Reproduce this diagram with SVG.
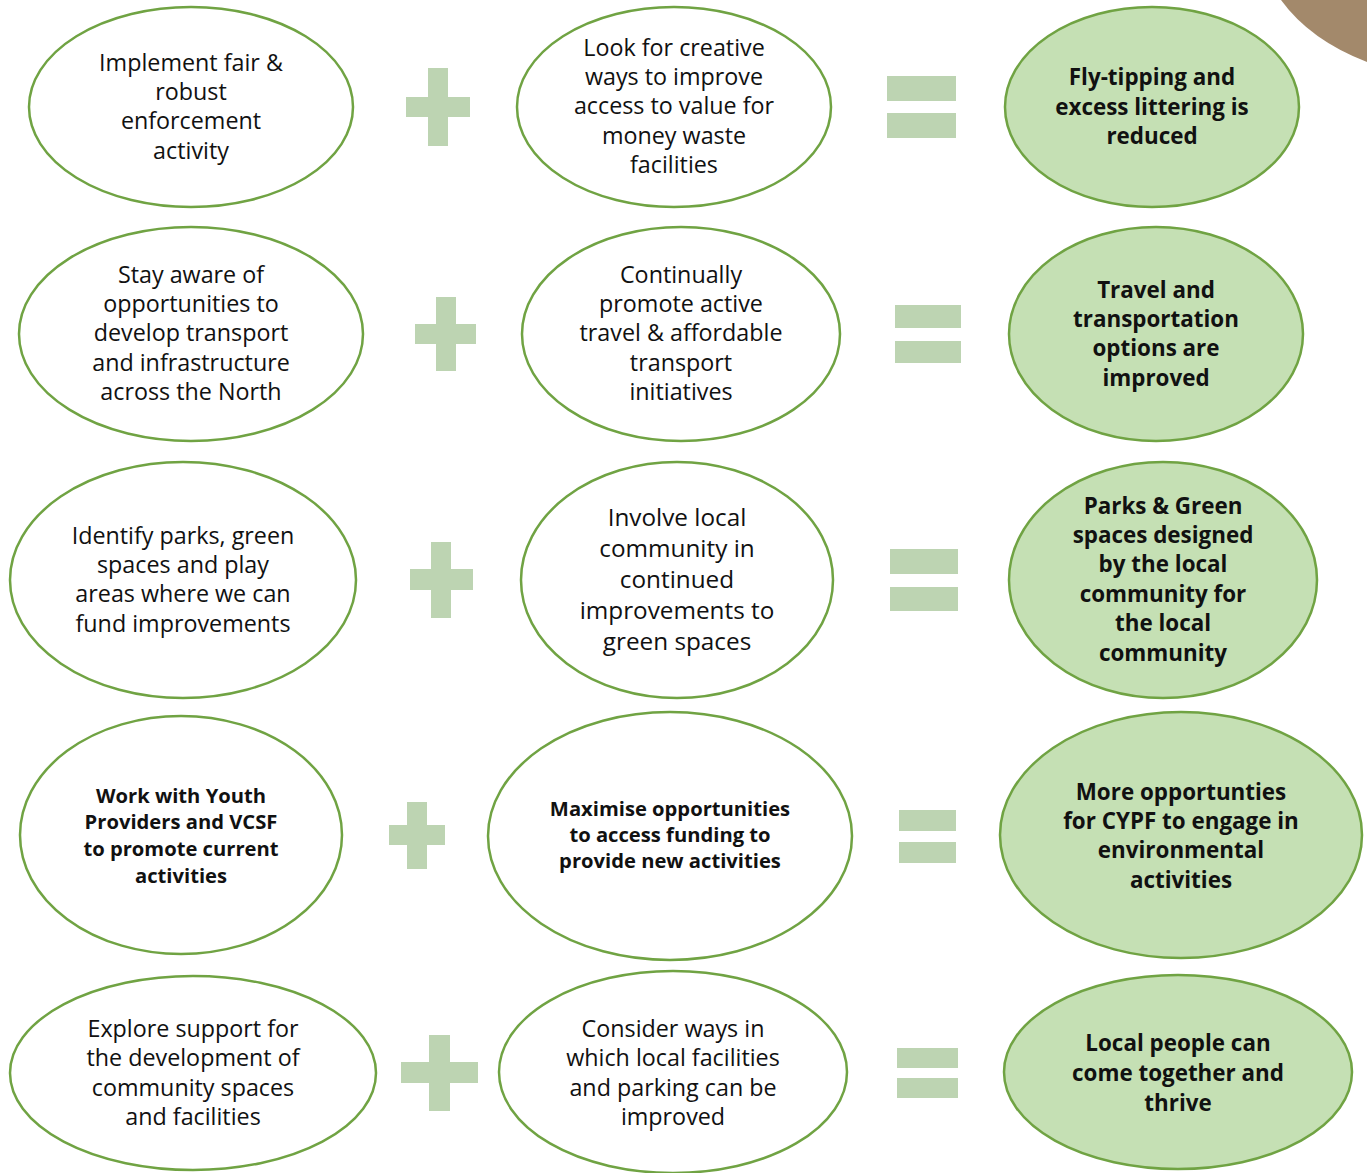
<svg xmlns="http://www.w3.org/2000/svg" width="1367" height="1173" viewBox="0 0 1367 1173">
<style>
.o{fill:#ffffff;stroke:#70a343;stroke-width:2.5}
.r{fill:#c5e0b4;stroke:#70a343;stroke-width:2.5}
.s{fill:#bdd4b2}
text{font-family:"Open Sans","Noto Sans",sans-serif;fill:#111;text-anchor:middle}
.t{font-size:23.3px}
.tl{font-size:24.3px}
.b{font-size:22.4px;font-weight:bold}
.bs{font-size:20.2px;font-weight:bold}
</style>
<rect width="1367" height="1173" fill="#ffffff"/>
<path d="M1281,0 Q1310,40 1367,62 L1367,0 Z" fill="#a3896b"/>
<g id="connectors">
<path class="s" d="M428,68h20v29h22v20h-22v29h-20v-29h-22v-20h22z"/>
<rect class="s" x="887" y="76" width="69" height="25"/><rect class="s" x="887" y="113" width="69" height="25"/>
<path class="s" d="M436,297h20v27h20v20h-20v27h-20v-27h-21v-20h21z"/>
<rect class="s" x="895" y="305" width="66" height="23"/><rect class="s" x="895" y="341" width="66" height="22"/>
<path class="s" d="M431,542h20v27h22v21h-22v28h-20v-28h-21v-21h21z"/>
<rect class="s" x="890" y="549" width="68" height="25"/><rect class="s" x="890" y="587" width="68" height="24"/>
<path class="s" d="M407,802h20v23h18v20h-18v24h-20v-24h-18v-20h18z"/>
<rect class="s" x="899" y="810" width="57" height="21"/><rect class="s" x="899" y="842" width="57" height="21"/>
<path class="s" d="M429,1035h21v27h28v21h-28v28h-21v-28h-28v-21h28z"/>
<rect class="s" x="897" y="1048" width="61" height="20"/><rect class="s" x="897" y="1078" width="61" height="20"/>
</g>
<g id="n1"><ellipse class="o" cx="191" cy="107" rx="162" ry="100"/>
<text class="t"><tspan x="191" y="71">Implement fair &amp;</tspan><tspan x="191" y="100">robust</tspan><tspan x="191" y="129">enforcement</tspan><tspan x="191" y="159">activity</tspan></text></g>
<g id="n2"><ellipse class="o" cx="674" cy="107" rx="157" ry="100"/>
<text class="t"><tspan x="674" y="56">Look for creative</tspan><tspan x="674" y="85">ways to improve</tspan><tspan x="674" y="114">access to value for</tspan><tspan x="674" y="144">money waste</tspan><tspan x="674" y="173">facilities</tspan></text></g>
<g id="n3"><ellipse class="r" cx="1152" cy="107" rx="147" ry="100"/>
<text class="b"><tspan x="1152" y="85">Fly-tipping and</tspan><tspan x="1152" y="115">excess littering is</tspan><tspan x="1152" y="144">reduced</tspan></text></g>
<g id="n4"><ellipse class="o" cx="191" cy="334" rx="172" ry="107"/>
<text class="t"><tspan x="191" y="283">Stay aware of</tspan><tspan x="191" y="312">opportunities to</tspan><tspan x="191" y="341">develop transport</tspan><tspan x="191" y="371">and infrastructure</tspan><tspan x="191" y="400">across the North</tspan></text></g>
<g id="n5"><ellipse class="o" cx="681" cy="334" rx="159" ry="107"/>
<text class="t"><tspan x="681" y="283">Continually</tspan><tspan x="681" y="312">promote active</tspan><tspan x="681" y="341">travel &amp; affordable</tspan><tspan x="681" y="371">transport</tspan><tspan x="681" y="400">initiatives</tspan></text></g>
<g id="n6"><ellipse class="r" cx="1156" cy="334" rx="147" ry="107"/>
<text class="b"><tspan x="1156" y="298">Travel and</tspan><tspan x="1156" y="327">transportation</tspan><tspan x="1156" y="356">options are</tspan><tspan x="1156" y="386">improved</tspan></text></g>
<g id="n7"><ellipse class="o" cx="183" cy="580" rx="173" ry="118"/>
<text class="t"><tspan x="183" y="544">Identify parks, green</tspan><tspan x="183" y="573">spaces and play</tspan><tspan x="183" y="602">areas where we can</tspan><tspan x="183" y="632">fund improvements</tspan></text></g>
<g id="n8"><ellipse class="o" cx="677" cy="580" rx="156" ry="118"/>
<text class="tl"><tspan x="677" y="526">Involve local</tspan><tspan x="677" y="557">community in</tspan><tspan x="677" y="588">continued</tspan><tspan x="677" y="619">improvements to</tspan><tspan x="677" y="650">green spaces</tspan></text></g>
<g id="n9"><ellipse class="r" cx="1163" cy="580" rx="154" ry="118"/>
<text class="b"><tspan x="1163" y="514">Parks &amp; Green</tspan><tspan x="1163" y="543">spaces designed</tspan><tspan x="1163" y="572">by the local</tspan><tspan x="1163" y="602">community for</tspan><tspan x="1163" y="631">the local</tspan><tspan x="1163" y="661">community</tspan></text></g>
<g id="n10"><ellipse class="o" cx="181" cy="835" rx="161" ry="119"/>
<text class="bs"><tspan x="181" y="803">Work with Youth</tspan><tspan x="181" y="829">Providers and VCSF</tspan><tspan x="181" y="856">to promote current</tspan><tspan x="181" y="883">activities</tspan></text></g>
<g id="n11"><ellipse class="o" cx="670" cy="836" rx="182" ry="124"/>
<text class="bs"><tspan x="670" y="816">Maximise opportunities</tspan><tspan x="670" y="842">to access funding to</tspan><tspan x="670" y="868">provide new activities</tspan></text></g>
<g id="n12"><ellipse class="r" cx="1181" cy="835" rx="181" ry="123"/>
<text class="b"><tspan x="1181" y="800">More opportunties</tspan><tspan x="1181" y="829">for CYPF to engage in</tspan><tspan x="1181" y="858">environmental</tspan><tspan x="1181" y="888">activities</tspan></text></g>
<g id="n13"><ellipse class="o" cx="193" cy="1073" rx="183" ry="97"/>
<text class="t"><tspan x="193" y="1037">Explore support for</tspan><tspan x="193" y="1066">the development of</tspan><tspan x="193" y="1096">community spaces</tspan><tspan x="193" y="1125">and facilities</tspan></text></g>
<g id="n14"><ellipse class="o" cx="673" cy="1072" rx="174" ry="101"/>
<text class="t"><tspan x="673" y="1037">Consider ways in</tspan><tspan x="673" y="1066">which local facilities</tspan><tspan x="673" y="1096">and parking can be</tspan><tspan x="673" y="1125">improved</tspan></text></g>
<g id="n15"><ellipse class="r" cx="1178" cy="1072" rx="174" ry="97"/>
<text class="b"><tspan x="1178" y="1051">Local people can</tspan><tspan x="1178" y="1081">come together and</tspan><tspan x="1178" y="1111">thrive</tspan></text></g>
</svg>
